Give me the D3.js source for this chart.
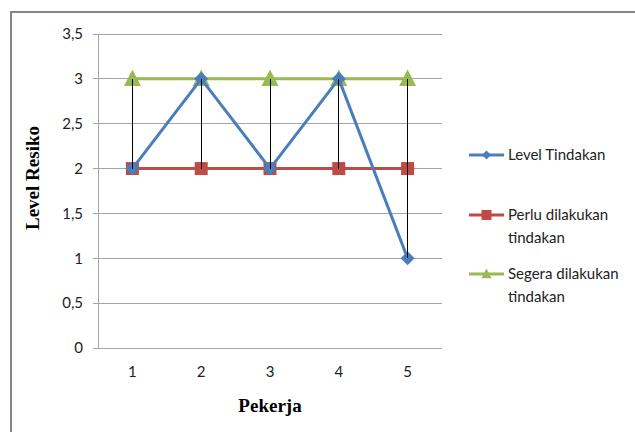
<!DOCTYPE html>
<html>
<head>
<meta charset="utf-8">
<script src="https://cdn.jsdelivr.net/npm/d3@7"></script>
<style>
  html, body { margin: 0; padding: 0; background: #fff; }
  svg { display: block; }
</style>
</head>
<body>
<svg id="chart" width="635" height="432"></svg>
<script>
const categories = ["1", "2", "3", "4", "5"];
const levelTindakan = [2, 3, 2, 3, 1];
const perluTindakan = [2, 2, 2, 2, 2];
const segeraTindakan = [3, 3, 3, 3, 3];
const yTicks = [0, 0.5, 1, 1.5, 2, 2.5, 3, 3.5];
const seriesNames = ["Level Tindakan", "Perlu dilakukan tindakan", "Segera dilakukan tindakan"];

const svg = d3.select("#chart");
const W = 635, H = 432;
const sansFont = "Lato, 'Open Sans', sans-serif";
const serifFont = "'Liberation Serif', 'Times New Roman', serif";

// outer frame
svg.append("rect").attr("x", 11).attr("y", 12).attr("width", W).attr("height", H)
  .attr("fill", "none").attr("stroke", "#878787").attr("stroke-width", 2);

const m = { left: 98, right: 442, top: 34, bottom: 348 };
const x = d3.scaleBand().domain(categories).range([m.left, m.right]);
const y = d3.scaleLinear().domain([0, 3.5]).range([m.bottom, m.top]);
const cx = c => x(c) + x.bandwidth() / 2;
const fmt = v => String(v).replace(".", ",");

// gridlines
svg.append("g").selectAll("line").data(yTicks).join("line")
  .attr("x1", m.left - 5).attr("x2", m.right)
  .attr("y1", d => y(d)).attr("y2", d => y(d))
  .attr("stroke", "#a6a6a6").attr("stroke-width", 1).attr("shape-rendering", "crispEdges");

// y axis line
svg.append("line").attr("x1", m.left).attr("x2", m.left).attr("y1", m.top).attr("y2", m.bottom)
  .attr("stroke", "#a6a6a6").attr("shape-rendering", "crispEdges");

// y tick labels
const yAxis = d3.axisLeft(y).tickValues(yTicks).tickFormat(fmt).tickSize(0).tickPadding(15);
const gy = svg.append("g").attr("transform", `translate(${m.left},0)`).call(yAxis);
gy.select(".domain").remove();
gy.selectAll("text").attr("font-family", sansFont).attr("font-size", 15).attr("fill", "#222");

// x tick labels
const xAxis = d3.axisBottom(x).tickSize(0).tickPadding(18);
const gx = svg.append("g").attr("transform", `translate(0,${m.bottom})`).call(xAxis);
gx.select(".domain").remove();
gx.selectAll("text").attr("font-family", sansFont).attr("font-size", 15).attr("fill", "#222");

// axis titles
svg.append("text").attr("x", (m.left + m.right) / 2).attr("y", 412)
  .attr("text-anchor", "middle").attr("font-family", serifFont).attr("font-weight", "bold")
  .attr("font-size", 19).text("Pekerja");
svg.append("text").attr("transform", `translate(39,${(m.top + m.bottom) / 2 - 13}) rotate(-90)`)
  .attr("text-anchor", "middle").attr("font-family", serifFont).attr("font-weight", "bold")
  .attr("font-size", 19).text("Level Resiko");

const colors = ["#4a7ebb", "#be4b48", "#98b954"];
const allSeries = [levelTindakan, perluTindakan, segeraTindakan];
const line = d3.line().x((d, i) => cx(categories[i])).y(d => y(d));

// marker shapes (path generators by half-size)
const diamondPath = r => `M0,${-r}L${r},0L0,${r}L${-r},0Z`;
const squarePath = r => `M${-r},${-r}H${r}V${r}H${-r}Z`;
const trianglePath = r => `M0,${-r * 1.1}L${r},${r * 0.85}L${-r},${r * 0.85}Z`;
const shapes = [diamondPath, squarePath, trianglePath];
const markerR = [7, 6.5, 8.5];
const legendR = [4.5, 5, 5];

function drawSeries(idx) {
  const data = allSeries[idx];
  svg.append("path").datum(data).attr("d", line).attr("fill", "none")
    .attr("stroke", colors[idx]).attr("stroke-width", 3).attr("stroke-linejoin", "round");
  svg.append("g").selectAll("path").data(data).join("path")
    .attr("transform", (d, i) => `translate(${cx(categories[i])},${y(d)})`)
    .attr("d", shapes[idx](markerR[idx])).attr("fill", colors[idx]);
}
drawSeries(1);
drawSeries(2);
drawSeries(0);

// high-low lines
svg.append("g").selectAll("line").data(categories).join("line")
  .attr("x1", c => cx(c)).attr("x2", c => cx(c))
  .attr("y1", (c, i) => y(d3.max(allSeries, s => s[i])))
  .attr("y2", (c, i) => y(d3.min(allSeries, s => s[i])))
  .attr("stroke", "#000").attr("stroke-width", 1).attr("shape-rendering", "crispEdges");

// legend
const legendY = [[155], [215, 238], [274, 297]];
const legendText = [["Level Tindakan"], ["Perlu dilakukan", "tindakan"], ["Segera dilakukan", "tindakan"]];
legendY.forEach((ys, i) => {
  const g = svg.append("g");
  g.append("line").attr("x1", 469).attr("x2", 504).attr("y1", ys[0]).attr("y2", ys[0])
    .attr("stroke", colors[i]).attr("stroke-width", 3);
  g.append("path").attr("transform", `translate(486.5,${ys[0]})`)
    .attr("d", shapes[i](legendR[i])).attr("fill", colors[i]);
  legendText[i].forEach((t, j) => {
    g.append("text").attr("x", 508).attr("y", ys[j] + 5).attr("font-family", sansFont)
      .attr("font-size", 15).attr("fill", "#222").text(t);
  });
});
</script>
</body>
</html>
